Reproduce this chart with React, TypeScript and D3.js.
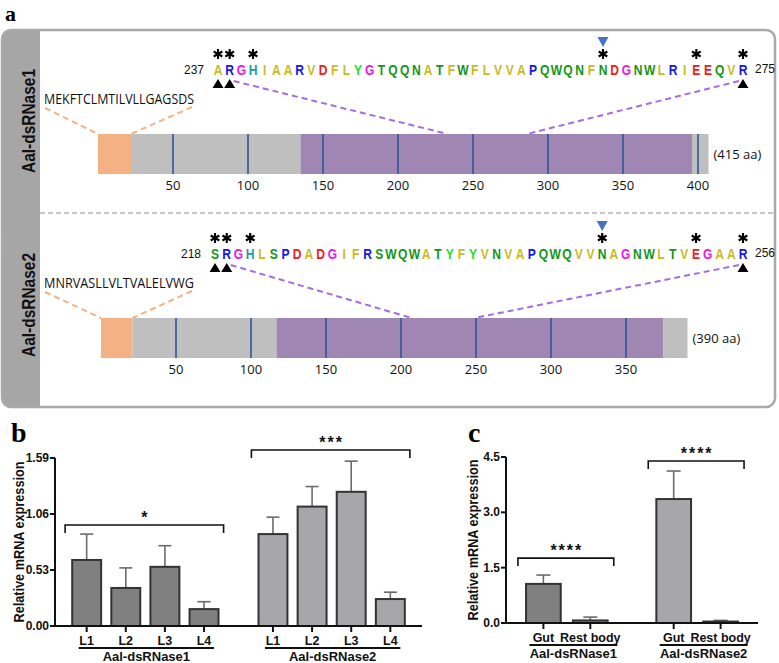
import React from "react";
import * as d3 from "d3";

// ---------- Panel a data ----------
const seq1 = "ARGHIAARVDFLYGTQQNATFWFLVVAPQWQNFNDGNWLRIEEQVR".split("");
const seq2 = "SRGHLSPDADGIFRSWQWATYFYVNVAPQWQVVNAGNWLTVEGAAR".split("");
const seqStart = [237, 218];
const seqEnd = [275, 256];
const starIdx = [0, 1, 3, 33, 41, 45];
const cleavageIdx = [33];
const triangleIdx = [0, 1, 45];
const signalPeptides = ["MEKFTCLMTILVLLGAGSDS", "MNRVASLLVLTVALELVWG"];
const proteinNames = ["Aal-dsRNase1", "Aal-dsRNase2"];
const proteinLengths = [415, 390];
const domains1 = [
  { start: 0, end: 22, type: "signal" },
  { start: 22, end: 135, type: "other" },
  { start: 135, end: 396, type: "endo" },
  { start: 396, end: 407, type: "other" },
];
const domains2 = [
  { start: 0, end: 21, type: "signal" },
  { start: 21, end: 117, type: "other" },
  { start: 117, end: 375, type: "endo" },
  { start: 375, end: 391, type: "other" },
];
const aaTicks1 = [50, 100, 150, 200, 250, 300, 350, 400];
const aaTicks2 = [50, 100, 150, 200, 250, 300, 350];
const motifSpan1 = [233, 286];
const motifSpan2 = [207, 249];

// ---------- Panel b data ----------
const stages = ["L1", "L2", "L3", "L4"];
const stageMean1 = [0.625, 0.36, 0.56, 0.16];
const stageSem1 = [0.245, 0.19, 0.2, 0.07];
const stageMean2 = [0.87, 1.13, 1.27, 0.255];
const stageSem2 = [0.16, 0.19, 0.29, 0.065];
const yTicksB = [0, 0.53, 1.06, 1.59];
const sigB = ["*", "***"];
const bracketB = [0.956, 1.666];

// ---------- Panel c data ----------
const tissues = ["Gut", "Rest body"];
const tissueMean1 = [1.06, 0.07];
const tissueSem1 = [0.24, 0.09];
const tissueMean2 = [3.36, 0.04];
const tissueSem2 = [0.76, 0.03];
const yTicksC = [0, 1.5, 3.0, 4.5];
const sigC = ["****", "****"];
const bracketC = [1.76, 4.39];

const aaColor: Record<string, string> = {
  A: "#c9bb1f", I: "#c9bb1f", L: "#c9bb1f", V: "#c9bb1f", F: "#c9bb1f", M: "#c9bb1f",
  R: "#1414f0", K: "#1414f0", P: "#1414f0",
  G: "#f015e6",
  H: "#1a9e9e",
  D: "#f01a1a", E: "#f01a1a",
  Y: "#1fde1f",
  T: "#159615", Q: "#159615", N: "#159615", W: "#159615", S: "#159615", C: "#159615",
};

const SANS = "'Liberation Sans', Arial, sans-serif";
const BODY = "'Open Sans', 'Noto Sans', sans-serif";
const SERIF = "'Liberation Serif', 'DejaVu Serif', serif";

function Asterisk({ x, y, r = 5 }: { x: number; y: number; r?: number }) {
  const angles = [90, 30, 150];
  const d = angles
    .map((a) => {
      const rad = (a * Math.PI) / 180;
      const dx = Math.cos(rad) * r;
      const dy = Math.sin(rad) * r;
      return `M${x - dx},${y - dy}L${x + dx},${y + dy}`;
    })
    .join("");
  return <path d={d} stroke="#000" strokeWidth={2.1} />;
}

function ProteinRow(props: {
  seq: string[];
  start: number;
  end: number;
  name: string;
  length: number;
  domains: { start: number; end: number; type: string }[];
  ticks: number[];
  motif: number[];
  signal: string;
  yOff: number;
  x0: number;
  seqRange: [number, number];
}) {
  const { seq, start, end, name, length, domains, ticks, motif, signal, yOff, x0, seqRange } = props;
  const xs = d3.scalePoint<number>().domain(seq.map((_, i) => i)).range(seqRange);
  const xa = d3.scaleLinear().domain([0, 100]).range([x0, x0 + 150]);
  const letterBase = 75 + yOff;
  const starY = 54 + yOff;
  const barTop = 134 + yOff;
  const barH = 40;
  const triTop = 79 + yOff;
  const fill: Record<string, string> = { signal: "#f4b183", other: "#bfbfbf", endo: "#9f86b3" };
  const lastDomain = domains[domains.length - 1];
  return (
    <g>
      <text
        transform={`translate(35,${121 + yOff * 1.0}) rotate(-90)`}
        textAnchor="middle"
        fontFamily={SANS}
        fontWeight="bold"
        fontSize={18}
        textLength={104}
        lengthAdjust="spacingAndGlyphs"
        fill="#111"
      >
        {name}
      </text>
      {/* connector lines */}
      <line x1={45} y1={108 + yOff} x2={xa(domains[0].start)} y2={barTop} stroke="#f4b183" strokeWidth={2} strokeDasharray="6,4" />
      <line x1={192} y1={107 + yOff} x2={xa(domains[0].end)} y2={barTop} stroke="#f4b183" strokeWidth={2} strokeDasharray="6,4" />
      <line x1={xs(1)! + 4} y1={81 + yOff} x2={xa(motif[0])} y2={barTop} stroke="#a46ee0" strokeWidth={2} strokeDasharray="6,4" />
      <line x1={xs(seq.length - 1)! - 4} y1={81 + yOff} x2={xa(motif[1])} y2={barTop} stroke="#a46ee0" strokeWidth={2} strokeDasharray="6,4" />
      {/* signal peptide */}
      <text x={44} y={104 + yOff} fontFamily={BODY} fontSize={14} textLength={150} lengthAdjust="spacingAndGlyphs" fill="#111">
        {signal}
      </text>
      {/* domains */}
      {domains.map((d, i) => (
        <rect key={i} x={xa(d.start)} y={barTop} width={xa(d.end) - xa(d.start)} height={barH} fill={fill[d.type]} />
      ))}
      {ticks.map((t) => (
        <g key={t}>
          <line x1={xa(t)} x2={xa(t)} y1={barTop} y2={barTop + barH} stroke="#2f5597" strokeWidth={1.6} />
          <text x={xa(t)} y={barTop + barH + 16} textAnchor="middle" fontFamily={BODY} fontSize={13} fill="#111">
            {t}
          </text>
        </g>
      ))}
      <text x={xa(lastDomain.end) + 5} y={barTop + 25} fontFamily={BODY} fontSize={13} fill="#111">
        {`(${length} aa)`}
      </text>
      {/* sequence */}
      <text x={xs(0)! - 14} y={letterBase - 1} textAnchor="end" fontFamily={SANS} fontSize={12} fill="#111">
        {start}
      </text>
      <text x={xs(seq.length - 1)! + 12} y={letterBase - 2} fontFamily={SANS} fontSize={12} fill="#111">
        {end}
      </text>
      {seq.map((c, i) => (
        <text
          key={i}
          transform={`translate(${xs(i)},${letterBase}) scale(0.78,1)`}
          textAnchor="middle"
          fontFamily={SANS}
          fontWeight="bold"
          fontSize={15.5}
          fill={aaColor[c] || "#333"}
        >
          {c}
        </text>
      ))}
      {starIdx.map((i) => (
        <Asterisk key={i} x={xs(i)!} y={starY} />
      ))}
      {cleavageIdx.map((i) => (
        <path key={i} d={`M${xs(i)! - 5.5},${37 + yOff}L${xs(i)! + 5.5},${37 + yOff}L${xs(i)!},${47 + yOff}Z`} fill="#4472c4" />
      ))}
      {triangleIdx.map((i) => (
        <path key={i} d={`M${xs(i)! - 5.5},${triTop + 9}L${xs(i)! + 5.5},${triTop + 9}L${xs(i)!},${triTop}Z`} fill="#000" />
      ))}
    </g>
  );
}

function BarPanel(props: {
  yRange: [number, number];
  yMax: number;
  yTicks: number[];
  tickFmt: (v: number) => string;
  xRange: [number, number];
  padIn: number;
  padOut: number;
  cats: string[];
  means: number[][];
  sems: number[][];
  sig: string[];
  brackets: number[];
  ulLeft: number;
  ulRight: number;
  titleX: number;
  capW: number;
}) {
  const { yRange, yMax, yTicks, tickFmt, xRange, padIn, padOut, cats, means, sems, sig, brackets, ulLeft, ulRight, titleX, capW } = props;
  const y = d3.scaleLinear().domain([0, yMax]).range(yRange);
  const xo = d3.scaleBand<string>().domain(proteinNames).range(xRange).paddingInner(padIn).paddingOuter(padOut);
  const xi = d3.scaleBand<string>().domain(cats).range([0, xo.bandwidth()]).paddingInner(0.26).paddingOuter(0.13);
  const fills = ["#808080", "#a6a6ab"];
  const axX = xRange[0];
  const y0 = y(0);
  return (
    <g fontFamily={SANS}>
      <text
        transform={`translate(${titleX},${(yRange[0] + yRange[1]) / 2}) rotate(-90)`}
        textAnchor="middle"
        fontWeight="bold"
        fontSize={15}
        textLength={161}
        lengthAdjust="spacingAndGlyphs"
        fill="#111"
      >
        Relative mRNA expression
      </text>
      {proteinNames.map((g, gi) => {
        const gx = xo(g)!;
        const centers = cats.map((c) => gx + xi(c)! + xi.bandwidth() / 2);
        const by = y(brackets[gi]);
        return (
          <g key={g}>
            {cats.map((c, ci) => {
              const bx = gx + xi(c)!;
              const cx = bx + xi.bandwidth() / 2;
              const top = y(means[gi][ci]);
              const et = y(means[gi][ci] + sems[gi][ci]);
              return (
                <g key={c}>
                  <line x1={cx} x2={cx} y1={top} y2={et} stroke="#6b6b6b" strokeWidth={1.6} />
                  <line x1={cx - capW / 2} x2={cx + capW / 2} y1={et} y2={et} stroke="#6b6b6b" strokeWidth={1.6} />
                  <rect x={bx} y={top} width={xi.bandwidth()} height={y0 - top} fill={fills[gi]} stroke="#333" strokeWidth={2} />
                  <line x1={cx} x2={cx} y1={y0} y2={y0 + 6} stroke="#111" strokeWidth={2} />
                  <text x={cx} y={y0 + 19} textAnchor="middle" fontWeight="bold" fontSize={12.5} fill="#111">
                    {c}
                  </text>
                </g>
              );
            })}
            <line x1={centers[0] - ulLeft} x2={centers[centers.length - 1] + ulRight} y1={y0 + 22} y2={y0 + 22} stroke="#111" strokeWidth={1.8} />
            <text x={(centers[0] - ulLeft + centers[centers.length - 1] + ulRight) / 2} y={y0 + 35} textAnchor="middle" fontWeight="bold" fontSize={13} fill="#111">
              {g}
            </text>
            <path d={`M${gx - 2},${by + 8}V${by}H${gx + xo.bandwidth()}V${by + 8}`} fill="none" stroke="#111" strokeWidth={1.6} />
            <text x={gx + xo.bandwidth() / 2} y={by - 2} textAnchor="middle" fontSize={16} fontWeight="bold" letterSpacing={2} fill="#111">
              {sig[gi]}
            </text>
          </g>
        );
      })}
      <line x1={axX} x2={axX} y1={y0 + 1} y2={y(yMax)} stroke="#111" strokeWidth={2} />
      <line x1={axX - 1} x2={xRange[1]} y1={y0} y2={y0} stroke="#111" strokeWidth={2} />
      {yTicks.map((t) => (
        <g key={t}>
          <line x1={axX - 5} x2={axX} y1={y(t)} y2={y(t)} stroke="#111" strokeWidth={2} />
          <text x={axX - 6} y={y(t) + 4} textAnchor="end" fontWeight="bold" fontSize={12} fill="#111">
            {tickFmt(t)}
          </text>
        </g>
      ))}
    </g>
  );
}

export default function App() {
  return (
    <svg width={779} height={663} style={{ position: "absolute", left: 0, top: 0, background: "#fff" }}>
      <defs>
        <clipPath id="boxclip">
          <rect x={2} y={30} width={773} height={377} rx={9} />
        </clipPath>
      </defs>
      <text x={5} y={21} fontFamily={SERIF} fontWeight="bold" fontSize={22}>a</text>
      <rect x={2} y={30} width={38} height={377} fill="#a6a6a6" clipPath="url(#boxclip)" />
      <rect x={2} y={30} width={773} height={377} rx={9} fill="none" stroke="#a9a9a9" strokeWidth={2.5} />
      <line x1={40} x2={775} y1={213} y2={213} stroke="#b5b5b5" strokeWidth={1.4} strokeDasharray="5,3" />
      <ProteinRow seq={seq1} start={seqStart[0]} end={seqEnd[0]} name={proteinNames[0]} length={proteinLengths[0]}
        domains={domains1} ticks={aaTicks1} motif={motifSpan1} signal={signalPeptides[0]} yOff={0} x0={98} seqRange={[218, 743]} />
      <ProteinRow seq={seq2} start={seqStart[1]} end={seqEnd[1]} name={proteinNames[1]} length={proteinLengths[1]}
        domains={domains2} ticks={aaTicks2} motif={motifSpan2} signal={signalPeptides[1]} yOff={184} x0={101} seqRange={[215, 743]} />

      <text x={11} y={442} fontFamily={SERIF} fontWeight="bold" fontSize={28}>b</text>
      <BarPanel yRange={[626, 458]} yMax={1.59} yTicks={yTicksB} tickFmt={(v) => v.toFixed(2)} xRange={[55, 422]}
        padIn={0.16} padOut={0.065} cats={stages} means={[stageMean1, stageMean2]} sems={[stageSem1, stageSem2]}
        sig={sigB} brackets={bracketB} ulLeft={8} ulRight={10} titleX={24} capW={13} />

      <text x={468} y={442} fontFamily={SERIF} fontWeight="bold" fontSize={28}>c</text>
      <BarPanel yRange={[623, 457]} yMax={4.5} yTicks={yTicksC} tickFmt={(v) => v.toFixed(1)} xRange={[506, 758]}
        padIn={0.28} padOut={0.107} cats={tissues} means={[tissueMean1, tissueMean2]} sems={[tissueSem1, tissueSem2]}
        sig={sigC} brackets={bracketC} ulLeft={14} ulRight={27} titleX={478} capW={14} />
    </svg>
  );
}
